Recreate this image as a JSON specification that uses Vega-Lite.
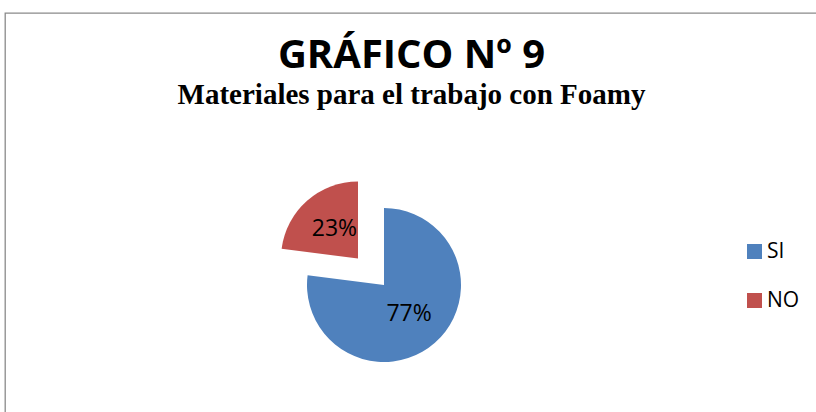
{
  "$schema": "https://vega.github.io/schema/vega-lite/v6.json",
  "width": 813,
  "height": 400,
  "autosize": "none",
  "padding": {"left": 5, "top": 13, "right": 0, "bottom": 0},
  "background": "white",
  "view": {"stroke": "#8a8a8a", "strokeWidth": 1.3, "fill": "white"},
  "title": {
    "text": "GRÁFICO Nº 9",
    "subtitle": "Materiales para el trabajo con Foamy",
    "orient": "top",
    "anchor": "middle",
    "frame": "group",
    "offset": -97,
    "font": "Open Sans",
    "fontSize": 40,
    "fontWeight": "bold",
    "color": "black",
    "subtitleFont": "Liberation Serif",
    "subtitleFontSize": 29,
    "subtitleFontWeight": "bold",
    "subtitleColor": "black",
    "subtitlePadding": 5
  },
  "data": {
    "values": [
      {"respuesta": "SI", "porcentaje": 0.77},
      {"respuesta": "NO", "porcentaje": 0.23}
    ]
  },
  "layer": [
    {
      "transform": [
        {"stack": "porcentaje", "groupby": [], "sort": [{"field": "respuesta", "order": "descending"}], "as": ["inicio", "fin"]},
        {"filter": "datum.respuesta == 'SI'"}
      ],
      "mark": {"type": "arc", "outerRadius": 77, "xOffset": -27.5, "yOffset": 72},
      "encoding": {
        "theta": {"field": "inicio", "type": "quantitative", "scale": {"domain": [0, 1]}},
        "theta2": {"field": "fin"},
        "color": {
          "field": "respuesta",
          "type": "nominal",
          "scale": {"domain": ["SI", "NO"], "range": ["#4F81BD", "#C0504D"]},
          "legend": {
            "title": null,
            "orient": "none",
            "legendX": 739,
            "legendY": 228,
            "padding": 0,
            "symbolType": "square",
            "symbolSize": 225,
            "symbolStrokeWidth": 0,
            "labelFont": "Open Sans",
            "labelFontSize": 21,
            "labelColor": "black",
            "labelOffset": 2,
            "rowPadding": 27
          }
        }
      }
    },
    {
      "transform": [
        {"stack": "porcentaje", "groupby": [], "sort": [{"field": "respuesta", "order": "descending"}], "as": ["inicio", "fin"]},
        {"filter": "datum.respuesta == 'NO'"}
      ],
      "mark": {"type": "arc", "outerRadius": 77, "xOffset": -53.5, "yOffset": 45.5},
      "encoding": {
        "theta": {"field": "inicio", "type": "quantitative", "scale": {"domain": [0, 1]}},
        "theta2": {"field": "fin"},
        "color": {"field": "respuesta", "type": "nominal"}
      }
    },
    {
      "mark": {"type": "text", "font": "Open Sans", "fontSize": 23, "color": "black", "xOffset": -27.5, "yOffset": 72},
      "encoding": {
        "theta": {"field": "porcentaje", "type": "quantitative", "stack": true},
        "order": {"field": "respuesta", "sort": "descending"},
        "detail": {"field": "respuesta"},
        "radius": {"field": "porcentaje", "type": "quantitative", "scale": {"type": "linear", "zero": false, "domain": [0.23, 0.77], "range": [75, 38]}},
        "text": {"field": "porcentaje", "type": "quantitative", "format": ".0%"}
      }
    }
  ]
}
